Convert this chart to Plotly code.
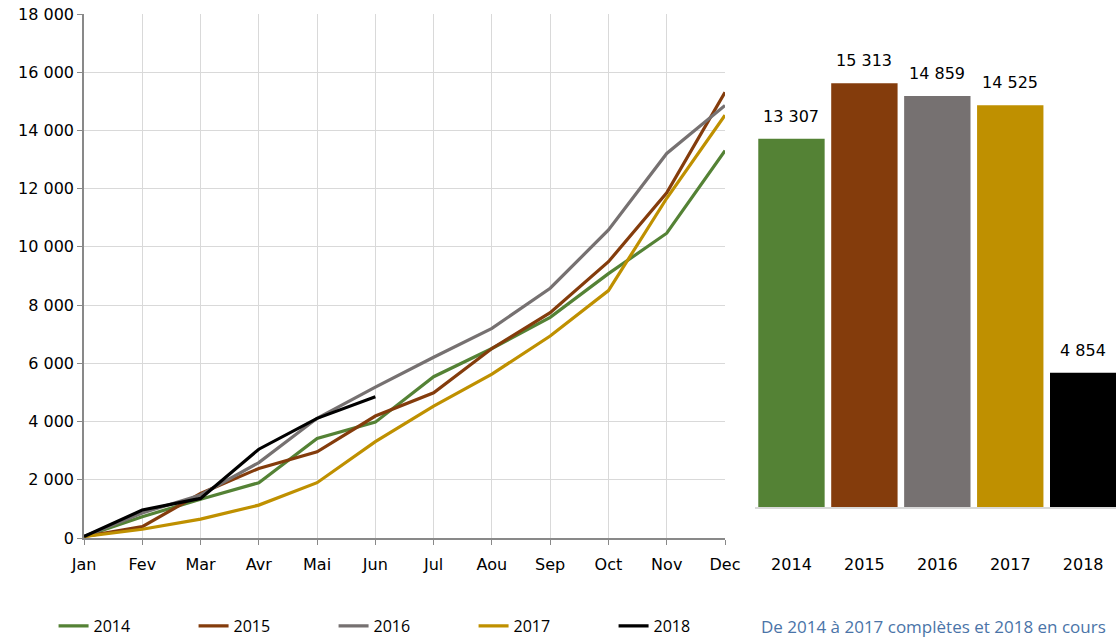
import plotly.graph_objects as go

months = ["Jan", "Fev", "Mar", "Avr", "Mai", "Jun", "Jul", "Aou", "Sep", "Oct", "Nov", "Dec"]
s2014 = [50, 730, 1330, 1900, 3420, 3980, 5540, 6510, 7580, 9080, 10470, 13307]
s2015 = [50, 390, 1530, 2390, 2960, 4190, 4990, 6510, 7740, 9490, 11860, 15313]
s2016 = [50, 860, 1480, 2590, 4110, 5180, 6210, 7200, 8580, 10580, 13210, 14859]
s2017 = [50, 300, 650, 1130, 1900, 3310, 4530, 5630, 6940, 8500, 11670, 14525]
s2018 = [50, 960, 1360, 3050, 4110, 4854]

years = ["2014", "2015", "2016", "2017", "2018"]
totals = [13307, 15313, 14859, 14525, 4854]
colors = ["#548235", "#843c0c", "#767171", "#bf9000", "#000000"]
yticks = [0, 2000, 4000, 6000, 8000, 10000, 12000, 14000, 16000, 18000]
note = "De 2014 à 2017 complètes et 2018 en cours"

W, H = 1116, 638
FONT = "DejaVu Sans"

fig = go.Figure()
series = [s2014, s2015, s2016, s2017, s2018]
for yr, vals, c in zip(years, series, colors):
    fig.add_trace(go.Scatter(
        x=list(range(len(vals))), y=vals, mode="lines", name=yr,
        line=dict(color=c, width=3.2), xaxis="x", yaxis="y",
    ))

fig.add_trace(go.Bar(
    x=years, y=totals, marker=dict(color=colors, line=dict(width=0)),
    xaxis="x2", yaxis="y2", showlegend=False,
))
for i, v in enumerate(totals):
    fig.add_annotation(x=i, y=v, xref="x2", yref="y2", text=f"{v:,}".replace(",", " "),
                       showarrow=False, yanchor="bottom", yshift=11,
                       font=dict(family=FONT, size=16, color="#000"))

fig.add_annotation(x=1108 / W, y=(638 - 626) / H, xref="paper", yref="paper",
                   text=note, showarrow=False, xanchor="right", yanchor="middle",
                   font=dict(family="Open Sans", size=17, color="#4a74a8"))

grid = "#d9d9d9"
axc = "#898989"
fig.update_layout(
    width=W, height=H,
    margin=dict(l=0, r=0, t=0, b=0, autoexpand=False),
    paper_bgcolor="white", plot_bgcolor="white",
    separators=", ",
    font=dict(family=FONT, size=16, color="#000"),
    bargap=0.09,
    xaxis=dict(
        domain=[84 / W, 725 / W], range=[0, 11], automargin=False,
        tickvals=list(range(12)), ticktext=months,
        showgrid=True, gridcolor=grid, gridwidth=1,
        showline=True, linecolor=axc, linewidth=1.5,
        ticks="outside", ticklen=5, tickcolor=axc,
        tickfont=dict(family=FONT, size=16), zeroline=False,
        ticklabelstandoff=6,
    ),
    yaxis=dict(
        domain=[(638 - 538) / H, (638 - 14) / H], range=[0, 18000], automargin=False,
        tickvals=yticks, tickformat=",d",
        showgrid=True, gridcolor=grid, gridwidth=1,
        showline=True, linecolor=axc, linewidth=1.5,
        ticks="outside", ticklen=5, tickcolor=axc,
        tickfont=dict(family=FONT, size=16), zeroline=False,
    ),
    xaxis2=dict(
        type="category",
        domain=[755 / W, 1.0], range=[-0.5, 4.45], anchor="y2", automargin=False,
        showline=True, linecolor="#d9d9d9", linewidth=2, showgrid=False,
        ticks="", tickfont=dict(family=FONT, size=16), ticklabelstandoff=42,
    ),
    yaxis2=dict(
        domain=[(638 - 507) / H, (638 - 9) / H], range=[0, 18000], anchor="x2",
        automargin=False, showgrid=False, showline=False, zeroline=False,
        showticklabels=False, ticks="",
    ),
    legend=dict(
        orientation="h", x=0.048, y=(638 - 626) / H, xanchor="left", yanchor="middle",
        entrywidth=95, entrywidthmode="pixels",
        font=dict(family="Open Sans", size=16, color="#000"),
        bgcolor="rgba(0,0,0,0)",
    ),
)

fig.write_html("out.html", config={"displayModeBar": False},
               post_script="document.body.style.margin='0';document.body.style.overflow='hidden';")
